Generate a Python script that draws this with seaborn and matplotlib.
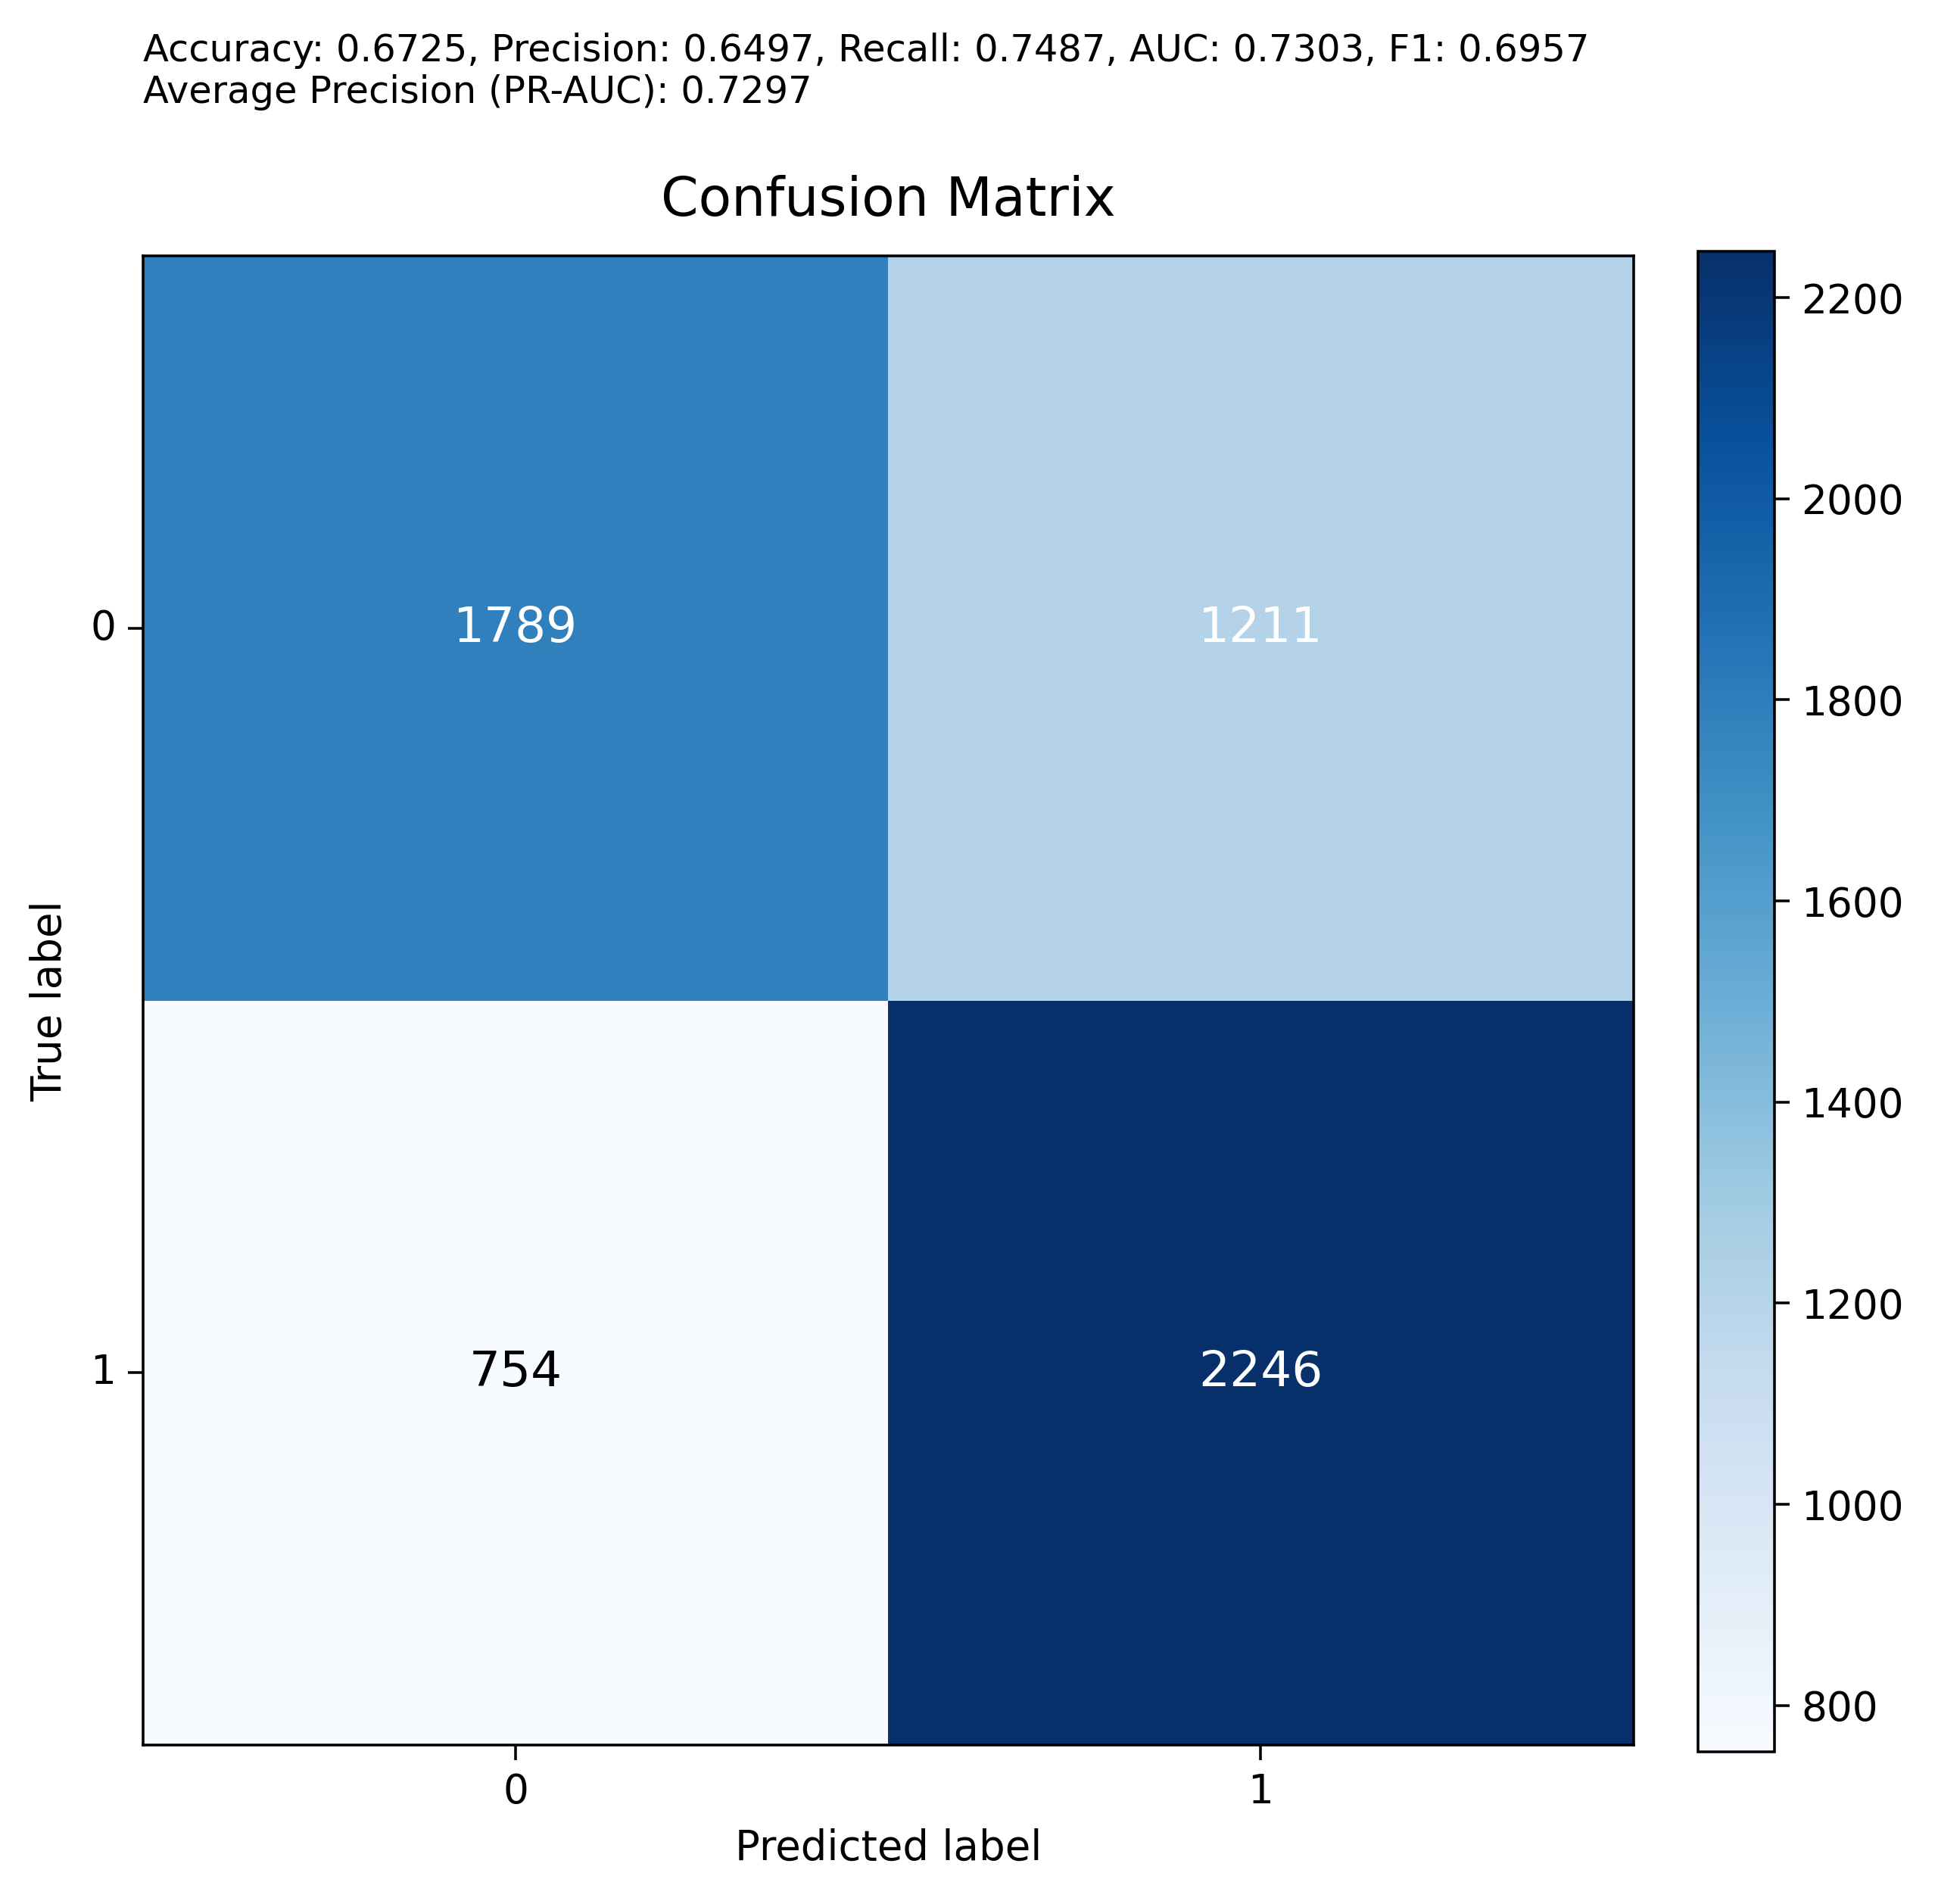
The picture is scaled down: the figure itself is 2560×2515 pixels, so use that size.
import numpy as np
import matplotlib
matplotlib.use("Agg")
import matplotlib.pyplot as plt
import seaborn as sns

# confusion matrix values
class_labels = ["0", "1"]
cm_values = np.array([[1789, 1211],
                      [754, 2246]])
cbar_ticks = [800, 1000, 1200, 1400, 1600, 1800, 2000, 2200]
metrics_text = ("Accuracy: 0.6725, Precision: 0.6497, Recall: 0.7487, AUC: 0.7303, F1: 0.6957\n"
                "Average Precision (PR-AUC): 0.7297")

plt.rcParams['font.family'] = ['DejaVu Sans']

fig = plt.figure(figsize=(8, 7.86), dpi=320)
ax = fig.add_axes([0.0738, 0.0835, 0.769, 0.782])
cax = fig.add_axes([0.876, 0.080, 0.0395, 0.788])

sns.heatmap(cm_values, cmap="Blues", annot=True, fmt="d", ax=ax, cbar_ax=cax,
            xticklabels=class_labels, yticklabels=class_labels,
            annot_kws={"fontsize": 14.5}, cbar_kws={"ticks": cbar_ticks})

# text colour like sklearn: white above half of max
thresh = cm_values.max() / 2.0
for t in ax.texts:
    v = float(t.get_text())
    t.set_color("white" if v > thresh else "black")

for sp in ax.spines.values():
    sp.set_visible(True)
    sp.set_linewidth(0.8)
    sp.set_color("black")
cb = ax.collections[0].colorbar
cb.outline.set_visible(True)
cb.outline.set_linewidth(0.8)
cb.outline.set_edgecolor("black")
cb.ax.tick_params(labelsize=12, length=4.5, width=0.8)

ax.tick_params(axis="both", labelsize=12, length=4.5, width=0.8)
ax.set_yticklabels(class_labels, rotation=0)
ax.set_xticklabels(class_labels, rotation=0)
ax.set_xlabel("Predicted label", fontsize=12.3, labelpad=5)
ax.set_ylabel("True label", fontsize=12.3, labelpad=6)
ax.set_title("Confusion Matrix", fontsize=16, pad=12)

fig.text(0.0738, 0.983, metrics_text, ha="left", va="top", fontsize=11.15)

fig.savefig("out.png", dpi=320)
